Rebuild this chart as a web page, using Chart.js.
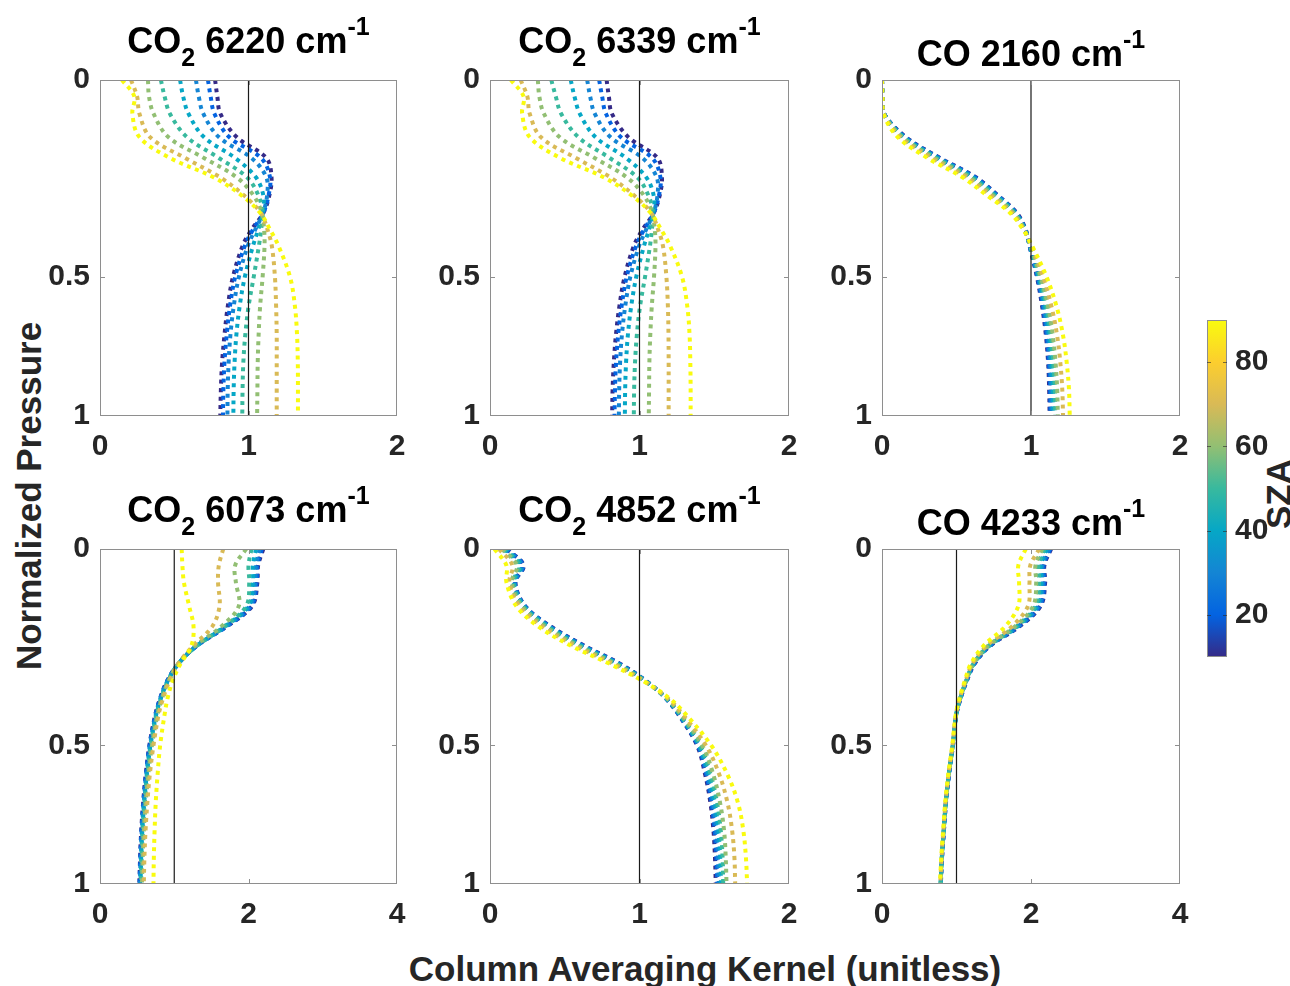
<!DOCTYPE html>
<html>
<head>
<meta charset="utf-8">
<script src="https://cdn.jsdelivr.net/npm/chart.js@4.4.1/dist/chart.umd.min.js"></script>
<style>
  body { margin: 0; background: #fff; }
  #fig { position: relative; width: 1290px; height: 986px; overflow: hidden; font-family: "Liberation Sans", Arial, sans-serif; }
  #fig canvas { position: absolute; }
  .lbl { position: absolute; font-weight: bold; font-size: 35px; color: #262626; white-space: nowrap; line-height: 1; }
</style>
</head>
<body>
<div id="fig">
  <div class="lbl" style="left:705px; top:968px; transform:translate(-50%,-50%);">Column Averaging Kernel (unitless)</div>
  <div class="lbl" style="left:28px; top:496px; transform:translate(-50%,-50%) rotate(-90deg);">Normalized Pressure</div>
  <div class="lbl" style="left:1278px; top:494px; transform:translate(-50%,-50%) rotate(-90deg);">SZA</div>
</div>
<script>
// pressure levels (normalized) shared by every profile
const P_LEVELS = [0, 0.02, 0.05, 0.1, 0.15, 0.2, 0.25, 0.3, 0.35, 0.4, 0.5, 0.6, 0.7, 0.8, 0.9, 1.0];
// solar zenith angle of each profile
const SZA = [10, 20, 30, 40, 50, 60, 70, 90];
const CB_MIN = 10, CB_MAX = 90;
const CB_TICKS = [20, 40, 60, 80];
const REF_KERNEL = 1;

// column averaging kernels, one row per SZA
const co2_6220 = [
  [0.775, 0.79, 0.81, 0.92, 1.12, 1.155, 1.14, 1.10, 1.02, 0.96, 0.895, 0.86, 0.838, 0.822, 0.814, 0.81],
  [0.727, 0.745, 0.77, 0.87, 1.085, 1.145, 1.135, 1.10, 1.03, 0.975, 0.91, 0.875, 0.853, 0.838, 0.831, 0.828],
  [0.646, 0.665, 0.695, 0.80, 1.02, 1.12, 1.125, 1.098, 1.045, 0.995, 0.935, 0.90, 0.878, 0.866, 0.86, 0.858],
  [0.539, 0.56, 0.595, 0.70, 0.91, 1.05, 1.10, 1.097, 1.065, 1.03, 0.975, 0.94, 0.918, 0.906, 0.90, 0.898],
  [0.41, 0.435, 0.47, 0.585, 0.80, 0.99, 1.067, 1.094, 1.085, 1.07, 1.035, 1.0, 0.978, 0.965, 0.96, 0.958],
  [0.323, 0.33, 0.36, 0.46, 0.70, 0.92, 1.034, 1.09, 1.105, 1.108, 1.095, 1.078, 1.068, 1.062, 1.06, 1.058],
  [0.209, 0.25, 0.265, 0.337, 0.573, 0.809, 0.971, 1.083, 1.128, 1.157, 1.178, 1.186, 1.19, 1.19, 1.19, 1.19],
  [0.148, 0.231, 0.218, 0.265, 0.472, 0.764, 0.955, 1.079, 1.146, 1.202, 1.28, 1.313, 1.327, 1.332, 1.333, 1.333]
];
const co2_6339 = [
  [0.78, 0.795, 0.815, 0.925, 1.12, 1.15, 1.135, 1.095, 1.02, 0.962, 0.90, 0.865, 0.842, 0.828, 0.82, 0.817],
  [0.73, 0.75, 0.775, 0.875, 1.085, 1.14, 1.13, 1.095, 1.03, 0.977, 0.914, 0.88, 0.857, 0.843, 0.836, 0.833],
  [0.65, 0.67, 0.70, 0.805, 1.02, 1.115, 1.12, 1.094, 1.044, 0.997, 0.938, 0.904, 0.882, 0.87, 0.864, 0.862],
  [0.54, 0.565, 0.60, 0.705, 0.91, 1.045, 1.095, 1.093, 1.063, 1.03, 0.978, 0.944, 0.922, 0.91, 0.904, 0.902],
  [0.41, 0.44, 0.475, 0.59, 0.80, 0.985, 1.06, 1.09, 1.083, 1.07, 1.037, 1.003, 0.982, 0.97, 0.964, 0.962],
  [0.32, 0.33, 0.36, 0.465, 0.70, 0.915, 1.03, 1.085, 1.102, 1.107, 1.097, 1.082, 1.072, 1.066, 1.064, 1.062],
  [0.205, 0.25, 0.265, 0.34, 0.575, 0.805, 0.965, 1.078, 1.125, 1.157, 1.18, 1.19, 1.194, 1.195, 1.195, 1.195],
  [0.14, 0.225, 0.215, 0.265, 0.47, 0.76, 0.95, 1.075, 1.145, 1.205, 1.285, 1.32, 1.335, 1.34, 1.342, 1.342]
];
const co_2160 = [
  [0, 0.004, 0.013, 0.16, 0.39, 0.63, 0.78, 0.905, 0.965, 0.99, 1.04, 1.075, 1.10, 1.115, 1.122, 1.125],
  [0, 0.004, 0.013, 0.155, 0.385, 0.625, 0.775, 0.90, 0.963, 0.99, 1.043, 1.08, 1.105, 1.12, 1.128, 1.13],
  [0, 0.004, 0.013, 0.15, 0.378, 0.615, 0.77, 0.897, 0.962, 0.992, 1.047, 1.087, 1.113, 1.128, 1.136, 1.14],
  [0, 0.004, 0.013, 0.146, 0.371, 0.608, 0.764, 0.893, 0.96, 0.993, 1.052, 1.095, 1.122, 1.138, 1.147, 1.15],
  [0, 0.004, 0.012, 0.14, 0.362, 0.598, 0.755, 0.888, 0.958, 0.995, 1.058, 1.104, 1.133, 1.15, 1.16, 1.163],
  [0, 0.003, 0.011, 0.133, 0.35, 0.585, 0.745, 0.882, 0.955, 0.997, 1.066, 1.115, 1.146, 1.165, 1.176, 1.18],
  [0, 0.003, 0.01, 0.12, 0.33, 0.565, 0.728, 0.872, 0.952, 1.002, 1.082, 1.138, 1.175, 1.197, 1.21, 1.215],
  [0, 0.002, 0.008, 0.105, 0.305, 0.54, 0.705, 0.86, 0.948, 1.008, 1.105, 1.172, 1.215, 1.24, 1.255, 1.26]
];
const co2_6073 = [
  [2.20, 2.13, 2.12, 2.05, 1.70, 1.30, 1.05, 0.90, 0.81, 0.745, 0.665, 0.615, 0.58, 0.555, 0.54, 0.53],
  [2.18, 2.12, 2.11, 2.04, 1.70, 1.30, 1.05, 0.90, 0.81, 0.748, 0.668, 0.618, 0.583, 0.558, 0.543, 0.533],
  [2.15, 2.10, 2.09, 2.02, 1.69, 1.30, 1.05, 0.905, 0.815, 0.752, 0.673, 0.623, 0.588, 0.563, 0.548, 0.538],
  [2.10, 2.06, 2.06, 2.00, 1.68, 1.30, 1.05, 0.91, 0.82, 0.758, 0.68, 0.63, 0.595, 0.57, 0.555, 0.545],
  [2.04, 2.00, 2.01, 1.97, 1.67, 1.30, 1.05, 0.915, 0.827, 0.765, 0.688, 0.638, 0.603, 0.578, 0.563, 0.553],
  [1.97, 1.82, 1.83, 1.87, 1.63, 1.28, 1.05, 0.92, 0.835, 0.775, 0.70, 0.65, 0.615, 0.59, 0.575, 0.565],
  [1.66, 1.60, 1.59, 1.61, 1.51, 1.25, 1.05, 0.93, 0.85, 0.79, 0.72, 0.67, 0.637, 0.613, 0.598, 0.59],
  [1.10, 1.11, 1.13, 1.20, 1.26, 1.23, 1.08, 0.975, 0.91, 0.87, 0.81, 0.775, 0.75, 0.735, 0.725, 0.72]
];
const co2_4852 = [
  [0.115, 0.225, 0.17, 0.235, 0.41, 0.635, 0.875, 1.05, 1.175, 1.26, 1.385, 1.44, 1.475, 1.495, 1.505, 1.51],
  [0.112, 0.222, 0.168, 0.233, 0.405, 0.63, 0.87, 1.05, 1.175, 1.262, 1.39, 1.447, 1.482, 1.503, 1.514, 1.52],
  [0.105, 0.215, 0.165, 0.23, 0.40, 0.622, 0.865, 1.048, 1.177, 1.265, 1.395, 1.455, 1.492, 1.514, 1.525, 1.53],
  [0.098, 0.205, 0.16, 0.225, 0.392, 0.613, 0.858, 1.045, 1.178, 1.268, 1.40, 1.465, 1.505, 1.528, 1.54, 1.545],
  [0.09, 0.195, 0.155, 0.22, 0.383, 0.603, 0.85, 1.042, 1.18, 1.272, 1.408, 1.477, 1.52, 1.544, 1.556, 1.56],
  [0.08, 0.18, 0.145, 0.21, 0.37, 0.59, 0.84, 1.04, 1.183, 1.278, 1.42, 1.495, 1.54, 1.566, 1.577, 1.582],
  [0.06, 0.15, 0.13, 0.195, 0.35, 0.57, 0.825, 1.035, 1.19, 1.29, 1.445, 1.535, 1.59, 1.62, 1.635, 1.64],
  [0.03, 0.11, 0.11, 0.175, 0.325, 0.545, 0.805, 1.03, 1.20, 1.31, 1.48, 1.59, 1.66, 1.695, 1.712, 1.72]
];
const co_4233 = [
  [2.27, 2.18, 2.19, 2.13, 1.84, 1.45, 1.24, 1.135, 1.056, 1.0, 0.953, 0.899, 0.858, 0.831, 0.806, 0.79],
  [2.26, 2.17, 2.18, 2.12, 1.83, 1.445, 1.235, 1.133, 1.055, 0.999, 0.952, 0.898, 0.857, 0.83, 0.805, 0.789],
  [2.24, 2.15, 2.16, 2.10, 1.82, 1.44, 1.23, 1.13, 1.053, 0.998, 0.951, 0.897, 0.856, 0.829, 0.804, 0.788],
  [2.21, 2.13, 2.14, 2.08, 1.81, 1.435, 1.228, 1.128, 1.052, 0.997, 0.95, 0.896, 0.855, 0.828, 0.803, 0.787],
  [2.18, 2.10, 2.11, 2.06, 1.80, 1.43, 1.225, 1.126, 1.05, 0.996, 0.949, 0.895, 0.854, 0.827, 0.802, 0.786],
  [2.15, 2.06, 2.07, 2.03, 1.78, 1.42, 1.22, 1.123, 1.048, 0.995, 0.948, 0.894, 0.853, 0.826, 0.801, 0.785],
  [2.11, 1.99, 1.98, 1.96, 1.74, 1.40, 1.21, 1.118, 1.045, 0.993, 0.946, 0.892, 0.851, 0.824, 0.799, 0.783],
  [1.93, 1.83, 1.84, 1.83, 1.65, 1.36, 1.19, 1.108, 1.04, 0.99, 0.943, 0.888, 0.847, 0.82, 0.795, 0.778]
];

// panel titles: [text, 'sub'|'sup'|undefined]
const TITLE_6220 = [['CO'], ['2', 'sub'], [' 6220 cm'], ['-1', 'sup']];
const TITLE_6339 = [['CO'], ['2', 'sub'], [' 6339 cm'], ['-1', 'sup']];
const TITLE_2160 = [['CO 2160 cm'], ['-1', 'sup']];
const TITLE_6073 = [['CO'], ['2', 'sub'], [' 6073 cm'], ['-1', 'sup']];
const TITLE_4852 = [['CO'], ['2', 'sub'], [' 4852 cm'], ['-1', 'sup']];
const TITLE_4233 = [['CO 4233 cm'], ['-1', 'sup']];

const PARULA = ['#352a87', '#0363e1', '#1485d4', '#06a7c6', '#38b99e', '#92bf73', '#d9ba56', '#fcce2e', '#f9fb0e'];
const FONT_FAMILY = '"Liberation Sans", Arial, Helvetica, sans-serif';
const TEXT = '#262626';
const FRAME = '#8e8e8e';
const Y_EXP = 0.77;   // axis spacing of normalized pressure (0.5 sits ~59% down)

function hexToRgb(h) {
  return [1, 3, 5].map(i => parseInt(h.slice(i, i + 2), 16));
}
function szaColor(v) {
  const t = Math.min(1, Math.max(0, (v - CB_MIN) / (CB_MAX - CB_MIN))) * (PARULA.length - 1);
  const i = Math.min(PARULA.length - 2, Math.floor(t));
  const f = t - i;
  const a = hexToRgb(PARULA[i]), b = hexToRgb(PARULA[i + 1]);
  const c = a.map((x, k) => Math.round(x + (b[k] - x) * f));
  return `rgb(${c[0]},${c[1]},${c[2]})`;
}

// y scale with non-linear spacing, like the original pressure axis
class PowerScale extends Chart.LinearScale {
  getPixelForValue(value) {
    const d = Math.max(0, (value - this.min) / (this.max - this.min));
    return this.getPixelForDecimal(Math.pow(d, Y_EXP));
  }
  getValueForPixel(pixel) {
    return this.min + Math.pow(this.getDecimalForPixel(pixel), 1 / Y_EXP) * (this.max - this.min);
  }
}
PowerScale.id = 'power';
PowerScale.defaults = {};
Chart.register(PowerScale);

const panelFrame = {
  id: 'panelFrame',
  afterDatasetsDraw(chart) {
    const { ctx, chartArea: a } = chart;
    const xs = chart.scales.x, ys = chart.scales.y;
    ctx.save();
    ctx.strokeStyle = FRAME;
    ctx.lineWidth = 1;
    ctx.strokeRect(a.left + 0.5, a.top + 0.5, a.right - a.left - 1, a.bottom - a.top - 1);
    ctx.beginPath();
    xs.ticks.forEach(t => {
      const px = Math.round(xs.getPixelForValue(t.value)) + 0.5;
      if (px < a.left + 2 || px > a.right - 2) return;
      ctx.moveTo(px, a.bottom); ctx.lineTo(px, a.bottom - 5);
      ctx.moveTo(px, a.top); ctx.lineTo(px, a.top + 5);
    });
    ys.ticks.forEach(t => {
      const py = Math.round(ys.getPixelForValue(t.value)) + 0.5;
      if (py < a.top + 2 || py > a.bottom - 2) return;
      ctx.moveTo(a.left, py); ctx.lineTo(a.left + 5, py);
      ctx.moveTo(a.right, py); ctx.lineTo(a.right - 5, py);
    });
    ctx.stroke();
    ctx.restore();
  },
  afterDraw(chart, args, opts) {
    const parts = opts.title;
    if (!parts) return;
    const { ctx, chartArea: a } = chart;
    const big = `bold 36px ${FONT_FAMILY}`, small = `bold 25px ${FONT_FAMILY}`;
    const hasSub = parts.some(p => p[1] === 'sub');
    const base = hasSub ? a.top - 27 : a.top - 14;
    ctx.save();
    ctx.fillStyle = '#000';
    ctx.textBaseline = 'alphabetic';
    ctx.textAlign = 'left';
    let total = 0;
    const widths = parts.map(p => {
      ctx.font = p[1] ? small : big;
      const w = ctx.measureText(p[0]).width;
      total += w;
      return w;
    });
    let x = (a.left + a.right) / 2 - total / 2;
    parts.forEach((p, i) => {
      ctx.font = p[1] ? small : big;
      const dy = p[1] === 'sub' ? 13 : (p[1] === 'sup' ? -18 : 0);
      ctx.fillText(p[0], x, base + dy);
      x += widths[i];
    });
    ctx.restore();
  }
};

const fig = document.getElementById('fig');
const TICK_FONT = { family: FONT_FAMILY, size: 30, weight: 'bold' };

function makePanel(series, title, xmax, box) {
  const PAD_L = 60, PAD_T = 80, PAD_R = 22, PAD_B = 48;
  const [bx, by, bw, bh] = box;
  const canvas = document.createElement('canvas');
  canvas.width = bw + PAD_L + PAD_R;
  canvas.height = bh + PAD_T + PAD_B;
  canvas.style.left = (bx - PAD_L) + 'px';
  canvas.style.top = (by - PAD_T) + 'px';
  fig.appendChild(canvas);

  const datasets = series.map((xs, i) => ({
    data: xs.map((x, k) => ({ x: x, y: P_LEVELS[k] })),
    borderColor: szaColor(SZA[i]),
    borderWidth: 4,
    borderDash: [4, 4.5],
    borderCapStyle: 'butt',
    tension: 0.35,
    pointRadius: 0,
    showLine: true,
    order: SZA.length - i
  }));
  datasets.push({
    data: [{ x: REF_KERNEL, y: 0 }, { x: REF_KERNEL, y: 1 }],
    borderColor: '#1a1a1a',
    borderWidth: 1.2,
    pointRadius: 0,
    showLine: true,
    order: 0
  });

  new Chart(canvas, {
    type: 'scatter',
    data: { datasets: datasets },
    plugins: [panelFrame],
    options: {
      responsive: false,
      animation: false,
      events: [],
      layout: { padding: { top: PAD_T, right: PAD_R, left: 0, bottom: 0 } },
      plugins: {
        legend: { display: false },
        tooltip: { enabled: false },
        panelFrame: { title: title }
      },
      scales: {
        x: {
          type: 'linear', min: 0, max: xmax,
          grid: { display: false, drawTicks: false }, border: { display: false },
          ticks: { stepSize: xmax / 2, padding: 13, color: TEXT, font: TICK_FONT, maxRotation: 0 },
          afterFit: s => { s.height = PAD_B; }
        },
        y: {
          type: 'power', reverse: true, min: 0, max: 1,
          grid: { display: false, drawTicks: false }, border: { display: false },
          ticks: { stepSize: 0.5, padding: 10, color: TEXT, font: TICK_FONT, callback: v => String(v) },
          afterFit: s => { s.width = PAD_L; }
        }
      }
    }
  });
}

makePanel(co2_6220, TITLE_6220, 2, [100, 80, 297, 336]);
makePanel(co2_6339, TITLE_6339, 2, [490, 80, 299, 336]);
makePanel(co_2160, TITLE_2160, 2, [882, 80, 298, 336]);
makePanel(co2_6073, TITLE_6073, 4, [100, 549, 297, 335]);
makePanel(co2_4852, TITLE_4852, 2, [490, 549, 299, 335]);
makePanel(co_4233, TITLE_4233, 4, [882, 549, 298, 335]);

// colorbar
const colorbarFill = {
  id: 'colorbarFill',
  afterDraw(chart) {
    const { ctx, chartArea: a } = chart;
    const ys = chart.scales.y;
    const g = ctx.createLinearGradient(0, ys.getPixelForValue(CB_MIN), 0, ys.getPixelForValue(CB_MAX));
    PARULA.forEach((c, i) => g.addColorStop(i / (PARULA.length - 1), c));
    ctx.save();
    ctx.fillStyle = g;
    ctx.fillRect(a.left, a.top, a.right - a.left, a.bottom - a.top);
    ctx.strokeStyle = FRAME;
    ctx.lineWidth = 1;
    ctx.strokeRect(a.left + 0.5, a.top + 0.5, a.right - a.left - 1, a.bottom - a.top - 1);
    ctx.strokeStyle = 'rgba(40,40,40,0.6)';
    ctx.beginPath();
    ys.ticks.forEach(t => {
      const py = Math.round(ys.getPixelForValue(t.value)) + 0.5;
      ctx.moveTo(a.right, py); ctx.lineTo(a.right - 4, py);
      ctx.moveTo(a.left, py); ctx.lineTo(a.left + 4, py);
    });
    ctx.stroke();
    ctx.restore();
  }
};

(function makeColorbar() {
  const canvas = document.createElement('canvas');
  canvas.width = 95;
  canvas.height = 380;
  canvas.style.left = '1195px';
  canvas.style.top = '300px';
  fig.appendChild(canvas);
  new Chart(canvas, {
    type: 'scatter',
    data: { datasets: [] },
    plugins: [colorbarFill],
    options: {
      responsive: false,
      animation: false,
      events: [],
      layout: { padding: { top: 20, left: 12, right: 0, bottom: 23 } },
      plugins: { legend: { display: false }, tooltip: { enabled: false } },
      scales: {
        x: { display: false, min: 0, max: 1 },
        y: {
          position: 'right', min: CB_MIN, max: CB_MAX,
          grid: { display: false, drawTicks: false }, border: { display: false },
          afterBuildTicks: s => { s.ticks = CB_TICKS.map(v => ({ value: v })); },
          ticks: { padding: 8, color: TEXT, font: TICK_FONT },
          afterFit: s => { s.width = 63; s.paddingTop = 0; s.paddingBottom = 0; }
        }
      }
    }
  });
})();
</script>
</body>
</html>
